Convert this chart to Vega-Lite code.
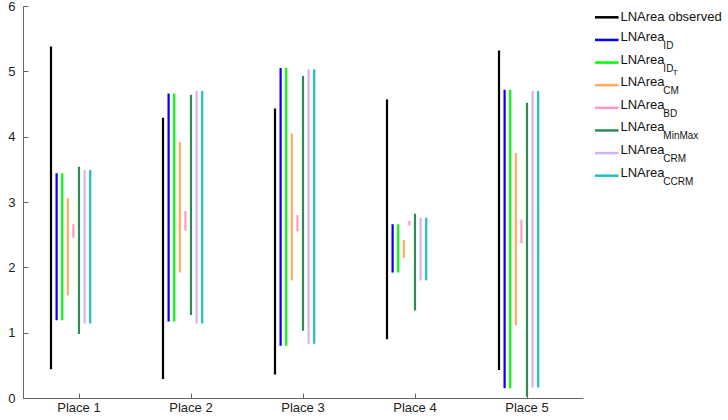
{
  "$schema": "https://vega.github.io/schema/vega-lite/v6.json",
  "padding": {"left": 7, "top": 0, "right": 0, "bottom": 0},
  "background": "white",
  "spacing": 10,
  "config": {
    "view": {"stroke": null},
    "font": "Liberation Sans",
    "axis": {
      "grid": false,
      "domainColor": "#666666",
      "tickColor": "#666666",
      "tickSize": -5,
      "labelColor": "#222222",
      "labelFont": "Liberation Sans",
      "labelFontSize": 13,
      "title": null
    }
  },
  "datasets": {
    "ranges": [
      {"place": "Place 1", "series": "observed", "lo": 0.44, "hi": 5.38},
      {"place": "Place 1", "series": "ID", "lo": 1.19, "hi": 3.44},
      {"place": "Place 1", "series": "IDT", "lo": 1.19, "hi": 3.44},
      {"place": "Place 1", "series": "CM", "lo": 1.57, "hi": 3.06},
      {"place": "Place 1", "series": "BD", "lo": 2.45, "hi": 2.66},
      {"place": "Place 1", "series": "MinMax", "lo": 0.98, "hi": 3.54},
      {"place": "Place 1", "series": "CRM", "lo": 1.14, "hi": 3.49},
      {"place": "Place 1", "series": "CCRM", "lo": 1.14, "hi": 3.49},
      {"place": "Place 2", "series": "observed", "lo": 0.29, "hi": 4.29},
      {"place": "Place 2", "series": "ID", "lo": 1.17, "hi": 4.66},
      {"place": "Place 2", "series": "IDT", "lo": 1.17, "hi": 4.66},
      {"place": "Place 2", "series": "CM", "lo": 1.92, "hi": 3.92},
      {"place": "Place 2", "series": "BD", "lo": 2.56, "hi": 2.86},
      {"place": "Place 2", "series": "MinMax", "lo": 1.27, "hi": 4.64},
      {"place": "Place 2", "series": "CRM", "lo": 1.14, "hi": 4.70},
      {"place": "Place 2", "series": "CCRM", "lo": 1.14, "hi": 4.70},
      {"place": "Place 3", "series": "observed", "lo": 0.36, "hi": 4.43},
      {"place": "Place 3", "series": "ID", "lo": 0.80, "hi": 5.05},
      {"place": "Place 3", "series": "IDT", "lo": 0.80, "hi": 5.05},
      {"place": "Place 3", "series": "CM", "lo": 1.80, "hi": 4.05},
      {"place": "Place 3", "series": "BD", "lo": 2.55, "hi": 2.80},
      {"place": "Place 3", "series": "MinMax", "lo": 1.03, "hi": 4.93},
      {"place": "Place 3", "series": "CRM", "lo": 0.83, "hi": 5.03},
      {"place": "Place 3", "series": "CCRM", "lo": 0.83, "hi": 5.03},
      {"place": "Place 4", "series": "observed", "lo": 0.90, "hi": 4.57},
      {"place": "Place 4", "series": "ID", "lo": 1.92, "hi": 2.66},
      {"place": "Place 4", "series": "IDT", "lo": 1.92, "hi": 2.66},
      {"place": "Place 4", "series": "CM", "lo": 2.14, "hi": 2.42},
      {"place": "Place 4", "series": "BD", "lo": 2.64, "hi": 2.71},
      {"place": "Place 4", "series": "MinMax", "lo": 1.34, "hi": 2.82},
      {"place": "Place 4", "series": "CRM", "lo": 1.80, "hi": 2.76},
      {"place": "Place 4", "series": "CCRM", "lo": 1.80, "hi": 2.76},
      {"place": "Place 5", "series": "observed", "lo": 0.43, "hi": 5.32},
      {"place": "Place 5", "series": "ID", "lo": 0.15, "hi": 4.72},
      {"place": "Place 5", "series": "IDT", "lo": 0.15, "hi": 4.72},
      {"place": "Place 5", "series": "CM", "lo": 1.11, "hi": 3.75},
      {"place": "Place 5", "series": "BD", "lo": 2.37, "hi": 2.73},
      {"place": "Place 5", "series": "MinMax", "lo": 0.02, "hi": 4.52},
      {"place": "Place 5", "series": "CRM", "lo": 0.16, "hi": 4.70},
      {"place": "Place 5", "series": "CCRM", "lo": 0.16, "hi": 4.70}
    ],
    "legend": [
      {"series": "observed", "main": "LNArea observed", "sub": "", "subsub": ""},
      {"series": "ID", "main": "LNArea", "sub": "ID", "subsub": ""},
      {"series": "IDT", "main": "LNArea", "sub": "ID", "subsub": "T"},
      {"series": "CM", "main": "LNArea", "sub": "CM", "subsub": ""},
      {"series": "BD", "main": "LNArea", "sub": "BD", "subsub": ""},
      {"series": "MinMax", "main": "LNArea", "sub": "MinMax", "subsub": ""},
      {"series": "CRM", "main": "LNArea", "sub": "CRM", "subsub": ""},
      {"series": "CCRM", "main": "LNArea", "sub": "CCRM", "subsub": ""}
    ]
  },
  "hconcat": [
    {
      "width": 560,
      "height": 392,
      "data": {"name": "ranges"},
      "mark": {"type": "rule", "strokeWidth": 2.2},
      "encoding": {
        "x": {
          "field": "place",
          "type": "nominal",
          "scale": {"type": "band", "paddingInner": 0, "paddingOuter": 0},
          "axis": {"labelAngle": 0, "labelPadding": 8}
        },
        "xOffset": {
          "field": "series",
          "type": "nominal",
          "scale": {
            "type": "band",
            "domain": ["observed", "ID", "IDT", "CM", "BD", "MinMax", "CRM", "CCRM"],
            "paddingInner": 0,
            "paddingOuter": 0,
            "range": [25.2, 70]
          }
        },
        "y": {
          "field": "hi",
          "type": "quantitative",
          "scale": {"domain": [0, 6], "nice": false, "zero": true},
          "axis": {"values": [0, 1, 2, 3, 4, 5, 6], "labelPadding": 13}
        },
        "y2": {"field": "lo"},
        "color": {
          "field": "series",
          "type": "nominal",
          "legend": null,
          "scale": {
            "domain": ["observed", "ID", "IDT", "CM", "BD", "MinMax", "CRM", "CCRM"],
            "range": ["#000000", "#0000FF", "#00FF00", "#FFAD60", "#FF99CC", "#2E8B57", "#D4B0FF", "#1CC0C6"]
          }
        }
      }
    },
    {
      "width": 132,
      "height": 181,
      "data": {"name": "legend"},
      "encoding": {
        "y": {
          "field": "series",
          "type": "nominal",
          "sort": null,
          "scale": {
            "type": "point",
            "padding": 0.5,
            "domain": ["observed", "ID", "IDT", "CM", "BD", "MinMax", "CRM", "CCRM"]
          },
          "axis": null
        }
      },
      "layer": [
        {
          "mark": {"type": "rule", "strokeWidth": 2.5},
          "encoding": {
            "x": {"datum": 0, "type": "quantitative", "scale": {"domain": [0, 132], "range": [0, 132]}, "axis": null},
            "x2": {"datum": 25},
            "color": {
              "field": "series",
              "type": "nominal",
              "legend": null,
              "scale": {
                "domain": ["observed", "ID", "IDT", "CM", "BD", "MinMax", "CRM", "CCRM"],
                "range": ["#000000", "#0000FF", "#00FF00", "#FFAD60", "#FF99CC", "#2E8B57", "#D4B0FF", "#1CC0C6"]
              }
            }
          }
        },
        {
          "transform": [{"filter": "datum.sub == ''"}],
          "mark": {"type": "text", "align": "left", "baseline": "middle", "fontSize": 13, "font": "Liberation Sans", "color": "#111111"},
          "encoding": {
            "x": {"datum": 27, "type": "quantitative"},
            "text": {"field": "main"}
          }
        },
        {
          "transform": [{"filter": "datum.sub != ''"}],
          "mark": {"type": "text", "align": "left", "baseline": "middle", "fontSize": 13, "font": "Liberation Sans", "color": "#111111", "dy": -3},
          "encoding": {
            "x": {"datum": 27, "type": "quantitative"},
            "text": {"field": "main"}
          }
        },
        {
          "mark": {"type": "text", "align": "left", "baseline": "middle", "fontSize": 10, "font": "Liberation Sans", "color": "#111111", "dy": 6},
          "encoding": {
            "x": {"datum": 72.5, "type": "quantitative"},
            "text": {"field": "sub"}
          }
        },
        {
          "mark": {"type": "text", "align": "left", "baseline": "middle", "fontSize": 8, "font": "Liberation Sans", "color": "#111111", "dy": 10},
          "encoding": {
            "x": {"datum": 82.5, "type": "quantitative"},
            "text": {"field": "subsub"}
          }
        }
      ]
    }
  ]
}
